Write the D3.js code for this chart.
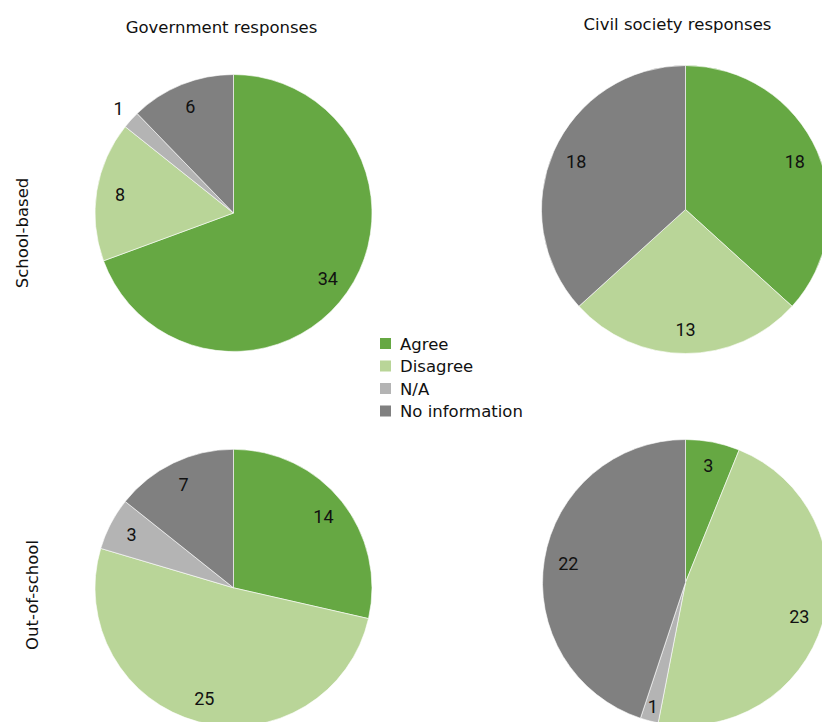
<!DOCTYPE html>
<html>
<head>
<meta charset="utf-8">
<script src="https://cdn.jsdelivr.net/npm/d3@7"></script>
<style>
  html, body { margin: 0; padding: 0; background: #fff; }
  svg { display: block; }
</style>
</head>
<body>
<svg id="chart" width="822" height="722"></svg>
<script>
// ---- data ----
const categories = ["Agree", "Disagree", "N/A", "No information"];
const columnTitles = ["Government responses", "Civil society responses"];
const rowTitles = ["School-based", "Out-of-school"];
const govSchool = [34, 8, 1, 6];
const civilSchool = [18, 13, 0, 18];
const govOut = [14, 25, 3, 7];
const civilOut = [3, 23, 1, 22];
const colors = ["#66a843", "#b9d598", "#b4b4b4", "#808080"];

// ---- layout ----
const svg = d3.select("#chart");
const titleFont = "Tahoma, 'DejaVu Sans', Verdana, sans-serif";
const numFont = "Roboto, sans-serif";

const panels = [
  { values: govSchool, cx: 233.5, cy: 213, r: 138.5, small: { 2: 1.12 } },
  { values: civilSchool, cx: 685.5, cy: 209.5, r: 144, small: {} },
  { values: govOut, cx: 233.5, cy: 587.8, r: 138.5, small: {} },
  { values: civilOut, cx: 685.5, cy: 582.5, r: 143, small: { 2: 0.9 } }
];

const color = d3.scaleOrdinal().domain(categories).range(colors);
const pie = d3.pie().sort(null).value(d => d.value);

panels.forEach(p => {
  const data = categories.map((c, i) => ({ cat: c, value: p.values[i], idx: i }));
  const arcs = pie(data);
  const g = svg.append("g").attr("transform", `translate(${p.cx},${p.cy})`);
  const arc = d3.arc().innerRadius(0).outerRadius(p.r);
  g.selectAll("path.slice").data(arcs.filter(a => a.data.value > 0)).join("path")
    .attr("class", "slice")
    .attr("d", arc)
    .attr("fill", d => color(d.data.cat))
    .attr("stroke", "#ffffff")
    .attr("stroke-width", 0.6);
  g.selectAll("text.lbl").data(arcs.filter(a => a.data.value > 0)).join("text")
    .attr("class", "lbl")
    .attr("transform", d => {
      const f = p.small[d.data.idx] !== undefined ? p.small[d.data.idx] : 0.83;
      const la = d3.arc().innerRadius(p.r * f).outerRadius(p.r * f);
      const [x, y] = la.centroid(d);
      return `translate(${x},${y})`;
    })
    .attr("text-anchor", "middle")
    .attr("dominant-baseline", "central")
    .attr("font-family", numFont)
    .attr("font-size", 18)
    .attr("fill", "#111")
    .text(d => d.data.value);
});

// column titles
const titleX = [221.5, 677.5];
const titleY = [33, 29.5];
columnTitles.forEach((t, i) => {
  svg.append("text")
    .attr("x", titleX[i]).attr("y", titleY[i])
    .attr("text-anchor", "middle")
    .attr("font-family", titleFont)
    .attr("font-size", 16.5)
    .attr("fill", "#111")
    .text(t);
});

// row titles
const rowPos = [[28, 233], [38, 595]];
rowTitles.forEach((t, i) => {
  svg.append("text")
    .attr("transform", `translate(${rowPos[i][0]},${rowPos[i][1]}) rotate(-90)`)
    .attr("text-anchor", "middle")
    .attr("font-family", titleFont)
    .attr("font-size", 16.5)
    .attr("fill", "#111")
    .text(t);
});

// legend
const legend = svg.append("g").attr("transform", "translate(380,338)");
const ly = d3.scaleBand().domain(categories).range([0, 90]).paddingInner(0);
categories.forEach(c => {
  const row = legend.append("g").attr("transform", `translate(0,${ly(c)})`);
  row.append("rect").attr("width", 11).attr("height", 11).attr("fill", color(c));
  row.append("text")
    .attr("x", 20).attr("y", 6)
    .attr("dominant-baseline", "central")
    .attr("font-family", titleFont)
    .attr("font-size", 16.5)
    .attr("fill", "#111")
    .text(c);
});
</script>
</body>
</html>
